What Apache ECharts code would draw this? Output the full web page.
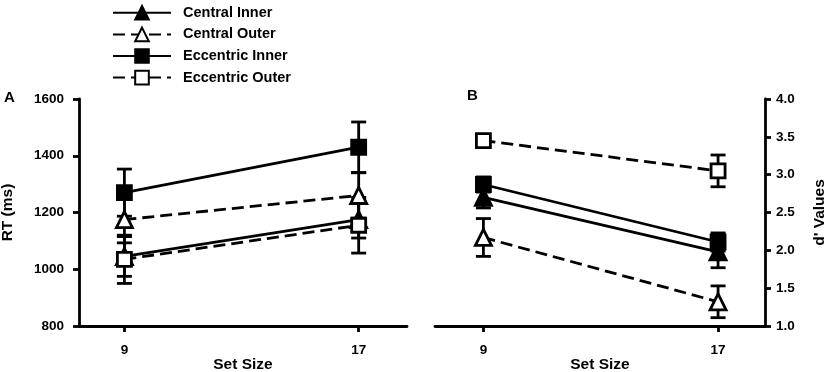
<!DOCTYPE html>
<html>
<head>
<meta charset="utf-8">
<script src="https://cdn.jsdelivr.net/npm/echarts@6/dist/echarts.min.js"></script>
<style>
  html, body { margin: 0; padding: 0; background: #fff; }
  #chart { width: 827px; height: 372px; }
</style>
</head>
<body>
<div id="chart"></div>
<script>
var setSizes = [9, 17];
var seriesNames = ['Central Inner', 'Central Outer', 'Eccentric Inner', 'Eccentric Outer'];

// panel A: RT (ms), mean and error
var rtCentralInner = [1045, 1175];
var rtCentralInnerErr = [70, 65];
var rtCentralOuter = [1175, 1260];
var rtCentralOuterErr = [82, 80];
var rtEccInner = [1270, 1430];
var rtEccInnerErr = [83, 89];
var rtEccOuter = [1035, 1155];
var rtEccOuterErr = [85, 98];

// panel B: d' values
var dCentralInner = [2.70, 1.98];
var dCentralInnerErr = [0.14, 0.21];
var dCentralOuter = [2.17, 1.32];
var dCentralOuterErr = [0.25, 0.21];
var dEccInner = [2.87, 2.11];
var dEccInnerErr = [0.10, 0.12];
var dEccOuter = [3.45, 3.05];
var dEccOuterErr = [0.06, 0.21];

var font = 'Liberation Sans, Arial, sans-serif';
var styles = [
    { symbol: 'triangle', fill: '#000', dash: 'solid' },
    { symbol: 'triangle', fill: '#fff', dash: [12, 6] },
    { symbol: 'rect', fill: '#000', dash: 'solid' },
    { symbol: 'rect', fill: '#fff', dash: [12, 6] }
];

function pairs(vals) {
    return setSizes.map(function (x, i) { return [x, vals[i]]; });
}
function errs(vals, e) {
    return setSizes.map(function (x, i) { return [x, vals[i] - e[i], vals[i] + e[i]]; });
}

function renderErr(params, api) {
    var x = api.value(0);
    var p1 = api.coord([x, api.value(2)]);
    var p2 = api.coord([x, api.value(1)]);
    var w = 7.5;
    var st = { stroke: '#000', lineWidth: 2.8 };
    return {
        type: 'group',
        children: [
            { type: 'line', shape: { x1: p1[0], y1: p1[1], x2: p2[0], y2: p2[1] }, style: st },
            { type: 'line', shape: { x1: p1[0] - w, y1: p1[1], x2: p1[0] + w, y2: p1[1] }, style: st },
            { type: 'line', shape: { x1: p2[0] - w, y1: p2[1], x2: p2[0] + w, y2: p2[1] }, style: st }
        ]
    };
}

var panels = [
    { means: [rtCentralInner, rtCentralOuter, rtEccInner, rtEccOuter],
      errs: [rtCentralInnerErr, rtCentralOuterErr, rtEccInnerErr, rtEccOuterErr] },
    { means: [dCentralInner, dCentralOuter, dEccInner, dEccOuter],
      errs: [dCentralInnerErr, dCentralOuterErr, dEccInnerErr, dEccOuterErr] }
];

var series = [];
panels.forEach(function (p, k) {
    p.means.forEach(function (m, i) {
        series.push({
            type: 'custom',
            xAxisIndex: k, yAxisIndex: k,
            renderItem: renderErr,
            encode: { x: 0, y: [1, 2] },
            data: errs(m, p.errs[i]),
            z: 2,
            silent: true
        });
    });
    p.means.forEach(function (m, i) {
        var s = styles[i];
        series.push({
            name: seriesNames[i],
            type: 'line',
            xAxisIndex: k, yAxisIndex: k,
            data: pairs(m),
            symbol: s.symbol,
            symbolSize: s.symbol === 'triangle' ? 16 : 14,
            lineStyle: { color: '#000', width: 2.8, type: s.dash },
            itemStyle: { color: s.fill, borderColor: '#000', borderWidth: 2.8 },
            z: 3,
            silent: true
        });
    });
});

var labelStyle = { color: '#000', fontWeight: 'bold', fontSize: 13.5, fontFamily: font };
var nameStyle = { color: '#000', fontWeight: 'bold', fontSize: 15.5, fontFamily: font };

function xAxisOf(idx, min, max) {
    return {
        type: 'value', gridIndex: idx, min: min, max: max,
        name: 'Set Size', nameLocation: 'middle', nameGap: 31, nameMoveOverlap: false,
        nameTextStyle: nameStyle,
        axisLine: { lineStyle: { color: '#000', width: 2.8 } },
        axisTick: { show: true, customValues: setSizes, length: 6, lineStyle: { color: '#000', width: 2.8 } },
        axisLabel: Object.assign({ customValues: setSizes, margin: 17 }, labelStyle),
        splitLine: { show: false }
    };
}

var option = {
    animation: false,
    backgroundColor: '#fff',
    legend: {
        data: seriesNames,
        orient: 'vertical',
        left: 112, top: 5, padding: 0,
        itemWidth: 58, itemHeight: 17, itemGap: 6,
        textStyle: { color: '#000', fontWeight: 'bold', fontSize: 14.5, fontFamily: font, padding: [0, 0, 0, 7] }
    },
    graphic: [
        { type: 'text', left: 4, top: 90, style: { text: 'A', font: 'bold 15px ' + font, fill: '#000' } },
        { type: 'text', left: 467, top: 88, style: { text: 'B', font: 'bold 15px ' + font, fill: '#000' } }
    ],
    grid: [
        { left: 79, right: 420, top: 99, bottom: 46, outerBoundsMode: 'none' },
        { left: 435, right: 62, top: 99, bottom: 46, outerBoundsMode: 'none' }
    ],
    xAxis: [xAxisOf(0, 7.45, 18.65), xAxisOf(1, 7.35, 18.6)],
    yAxis: [
        {
            type: 'value', gridIndex: 0, min: 800, max: 1600, interval: 200,
            name: 'RT (ms)', nameLocation: 'middle', nameGap: 63, nameRotate: 90, nameMoveOverlap: false,
            nameTextStyle: nameStyle,
            axisLine: { show: true, lineStyle: { color: '#000', width: 2.8 } },
            axisTick: { show: true, length: 6, lineStyle: { color: '#000', width: 2.8 } },
            axisLabel: Object.assign({ margin: 15, formatter: function (v) { return String(v); } }, labelStyle),
            splitLine: { show: false }
        },
        {
            type: 'value', gridIndex: 1, position: 'right', min: 1.0, max: 4.0, interval: 0.5,
            name: "d' Values", nameLocation: 'middle', nameGap: 47, nameRotate: 90, nameMoveOverlap: false,
            nameTextStyle: nameStyle,
            axisLine: { show: true, lineStyle: { color: '#000', width: 2.8 } },
            axisTick: { show: true, length: 6, lineStyle: { color: '#000', width: 2.8 } },
            axisLabel: Object.assign({ margin: 11, formatter: function (v) { return v.toFixed(1); } }, labelStyle),
            splitLine: { show: false }
        }
    ],
    series: series
};

var myChart = echarts.init(document.getElementById('chart'));
myChart.setOption(option);
</script>
</body>
</html>
